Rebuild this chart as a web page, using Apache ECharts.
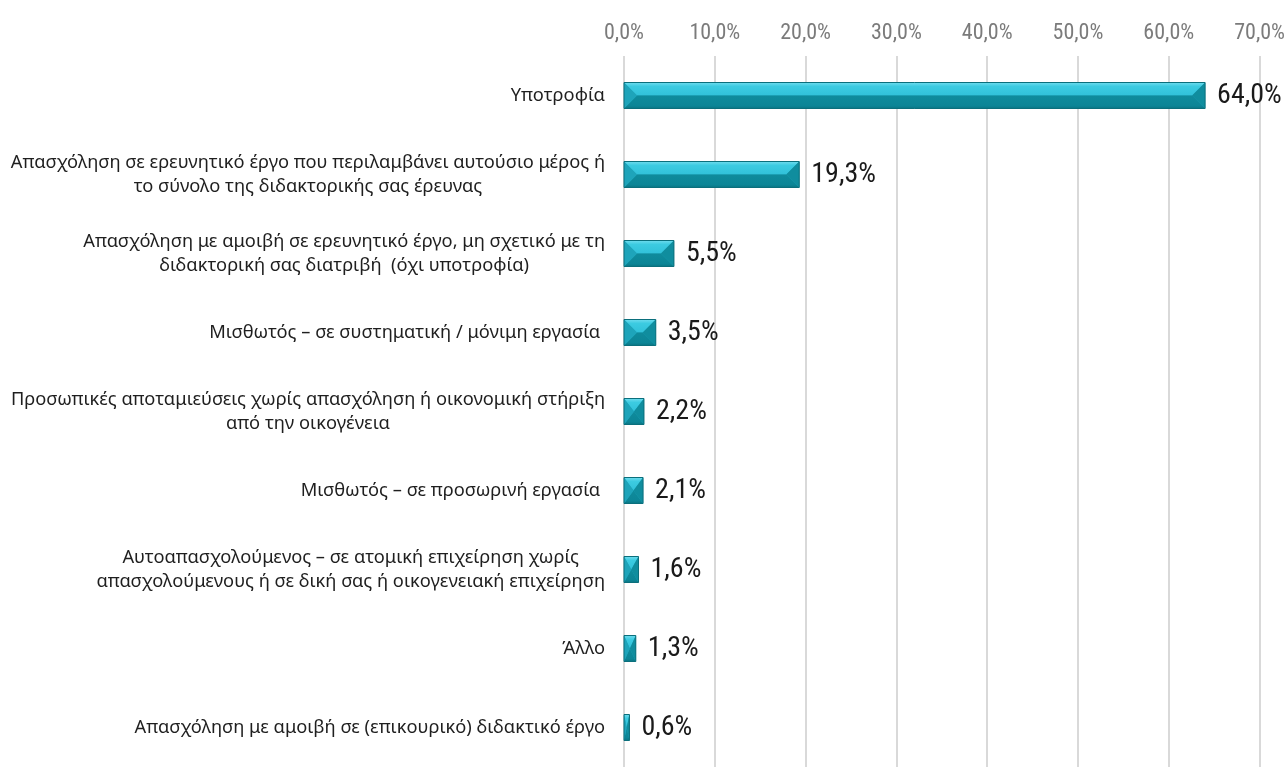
<!DOCTYPE html>
<html>
<head>
<meta charset="utf-8">
<script src="https://cdn.jsdelivr.net/npm/echarts@6/dist/echarts.min.js"></script>
<style>
    html, body { margin: 0; padding: 0; background: #fff; }
    #chart { width: 1288px; height: 767px; }
</style>
</head>
<body>
<div id="chart"></div>
<script>
    // categories, top to bottom
    var categories = [
        'Υποτροφία',
        'Απασχόληση σε ερευνητικό έργο που περιλαμβάνει αυτούσιο μέρος ή\nτο σύνολο της διδακτορικής σας έρευνας',
        'Απασχόληση με αμοιβή σε ερευνητικό έργο, μη σχετικό με τη\nδιδακτορική σας διατριβή  (όχι υποτροφία)',
        'Μισθωτός – σε συστηματική / μόνιμη εργασία ',
        'Προσωπικές αποταμιεύσεις χωρίς απασχόληση ή οικονομική στήριξη\nαπό την οικογένεια',
        'Μισθωτός – σε προσωρινή εργασία ',
        'Αυτοαπασχολούμενος – σε ατομική επιχείρηση χωρίς\nαπασχολούμενους ή σε δική σας ή οικογενειακή επιχείρηση',
        'Άλλο',
        'Απασχόληση με αμοιβή σε (επικουρικό) διδακτικό έργο'
    ];
    var values = [64.0, 19.3, 5.5, 3.5, 2.2, 2.1, 1.6, 1.3, 0.6];
    var tickMin = 0, tickMax = 70, tickStep = 10;

    var pct = function (v) { return v.toFixed(1).replace('.', ',') + '%'; };
    var narrow = '"Roboto Condensed", "Liberation Sans Narrow", Roboto, sans-serif';
    var BAR_H = 26;

    // bevelled bar drawn on top of the plain bar
    function renderBevel(params, api) {
        var p0 = api.coord([0, api.value(1)]);
        var p1 = api.coord([api.value(0), api.value(1)]);
        var x0 = p0[0], x1 = p1[0], yc = p0[1], hh = BAR_H / 2;
        var b = Math.min(13, (x1 - x0) / 2);
        var poly = function (pts, fill) {
            return { type: 'polygon', shape: { points: pts }, style: { fill: fill }, silent: true };
        };
        return {
            type: 'group',
            children: [
                poly([[x0, yc - hh], [x1, yc - hh], [x1 - b, yc], [x0 + b, yc]],
                    new echarts.graphic.LinearGradient(0, 0, 0, 1, [
                        { offset: 0, color: '#6fdcee' },
                        { offset: 0.3, color: '#3ccbe1' },
                        { offset: 1, color: '#31c1d9' }
                    ])),
                poly([[x0 + b, yc], [x1 - b, yc], [x1, yc + hh], [x0, yc + hh]],
                    new echarts.graphic.LinearGradient(0, 0, 0, 1, [
                        { offset: 0, color: '#0f8b9c' },
                        { offset: 0.8, color: '#0c8596' },
                        { offset: 1, color: '#0a7482' }
                    ])),
                poly([[x0, yc - hh], [x0 + b, yc], [x0, yc + hh]], '#1ea4ba'),
                poly([[x1, yc - hh], [x1, yc + hh], [x1 - b, yc]], '#108d9e'),
                {
                    type: 'rect', silent: true,
                    shape: { x: x0, y: yc - hh, width: x1 - x0, height: BAR_H },
                    style: { fill: 'none', stroke: '#0b6f7c', lineWidth: 1 }
                }
            ]
        };
    }

    var chart = echarts.init(document.getElementById('chart'));
    chart.setOption({
        animation: false,
        grid: { left: 624, right: 26, top: 56, height: 720 },
        xAxis: {
            type: 'value',
            position: 'top',
            min: tickMin,
            max: tickMax,
            interval: tickStep,
            axisLine: { show: false },
            axisTick: { show: false },
            axisLabel: {
                formatter: function (v) { return pct(v); },
                color: '#7b7b7b',
                fontSize: 22,
                fontFamily: narrow,
                margin: 12
            },
            splitLine: { lineStyle: { color: '#d9d9d9', width: 2 } }
        },
        yAxis: {
            type: 'category',
            inverse: true,
            data: categories,
            axisLine: { show: false },
            axisTick: { show: false },
            axisLabel: {
                margin: 19,
                align: 'right',
                lineHeight: 24,
                formatter: function (v) {
                    return v.split('\n').map(function (l) { return '{c|' + l + '}'; }).join('\n');
                },
                rich: {
                    c: { align: 'center', color: '#1f1f1f', fontSize: 18.3, lineHeight: 24, fontFamily: '"Noto Sans", sans-serif' }
                }
            }
        },
        series: [{
            type: 'bar',
            data: values,
            barWidth: BAR_H,
            itemStyle: { color: '#1fa5bb' },
            label: {
                show: true,
                position: 'right',
                distance: 12,
                formatter: function (p) { return pct(p.value); },
                color: '#1a1a1a',
                fontSize: 28,
                fontFamily: narrow
            }
        }, {
            type: 'custom',
            renderItem: renderBevel,
            data: values.map(function (v, i) { return [v, i]; }),
            encode: { x: 0, y: 1 },
            z: 3,
            silent: true
        }]
    });
</script>
</body>
</html>
